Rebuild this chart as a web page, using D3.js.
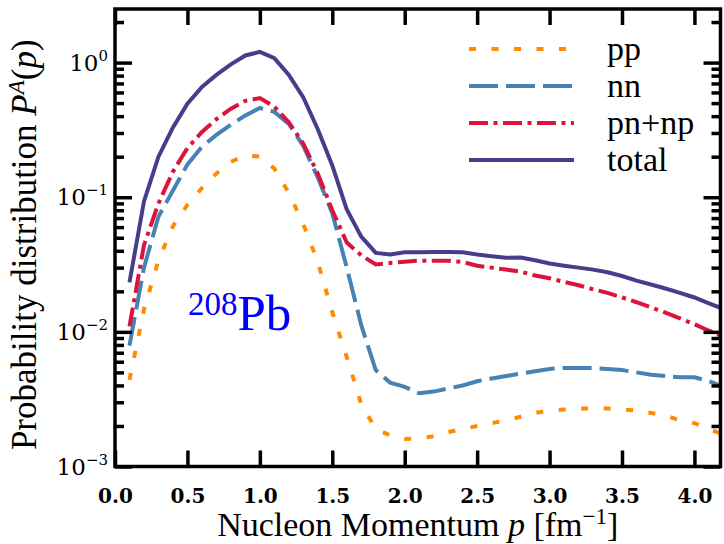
<!DOCTYPE html>
<html lang="en">
  <head>
    <meta charset="UTF-8" />
    <title>208Pb pair momentum distribution</title>
    <style>
      body { margin: 0; background: #fff; }
      svg { display: block; }
    </style>
  </head>
  <body>
    <div id="chart"></div>
    <script src="https://d3js.org/d3.v7.min.js"></script>
    <script>
      // momentum grid in fm^-1
      const momentum = [0.1, 0.2, 0.3, 0.4, 0.5, 0.6, 0.7, 0.8, 0.9, 1.0,
        1.1, 1.2, 1.3, 1.4, 1.5, 1.6, 1.7, 1.8, 1.9, 2.0,
        2.1, 2.2, 2.3, 2.4, 2.5, 2.6, 2.7, 2.8, 2.9, 3.0,
        3.1, 3.2, 3.3, 3.4, 3.5, 3.6, 3.7, 3.8, 3.9, 4.0,
        4.1, 4.2];

      const pp = [0.0044, 0.0147, 0.034, 0.061, 0.088, 0.117, 0.150, 0.183, 0.205, 0.200,
        0.163, 0.108, 0.063, 0.033, 0.014, 0.0065, 0.0029, 0.0019, 0.0017, 0.0016,
        0.00162, 0.00168, 0.0018, 0.0019, 0.0020, 0.0021, 0.0022, 0.00234, 0.0025, 0.0026,
        0.00265, 0.0027, 0.0027, 0.0027, 0.00265, 0.0026, 0.0025, 0.0024, 0.0022, 0.0021,
        0.0019, 0.00172];

      const nn = [0.0079, 0.030, 0.072, 0.112, 0.175, 0.237, 0.290, 0.345, 0.405, 0.460,
        0.430, 0.350, 0.240, 0.140, 0.076, 0.030, 0.0112, 0.0052, 0.0042, 0.0039,
        0.0035, 0.0036, 0.0038, 0.0040, 0.0043, 0.0045, 0.0047, 0.0049, 0.0051, 0.0053,
        0.0054, 0.0054, 0.0054, 0.0053, 0.0052, 0.0050, 0.0048, 0.0047, 0.0046, 0.0046,
        0.0043, 0.0039];

      const pnnp = [0.011, 0.044, 0.090, 0.155, 0.232, 0.305, 0.380, 0.455, 0.520, 0.545,
        0.470, 0.360, 0.250, 0.150, 0.080, 0.046, 0.037, 0.0317, 0.0325, 0.0332,
        0.0338, 0.0338, 0.0338, 0.0330, 0.0310, 0.0300, 0.0290, 0.0280, 0.0262, 0.0250,
        0.0235, 0.0222, 0.0207, 0.0195, 0.0180, 0.0166, 0.0152, 0.0139, 0.0126, 0.0114,
        0.0102, 0.0092];

      const total = [0.0233, 0.093, 0.200, 0.330, 0.495, 0.660, 0.810, 0.970, 1.130, 1.200,
        1.080, 0.810, 0.550, 0.320, 0.172, 0.081, 0.051, 0.0386, 0.0375, 0.0390,
        0.0390, 0.0392, 0.0392, 0.0390, 0.0375, 0.0365, 0.0355, 0.0357, 0.0340, 0.0322,
        0.0310, 0.0300, 0.0290, 0.0277, 0.0260, 0.0240, 0.0225, 0.0210, 0.0195, 0.0180,
        0.0163, 0.0148];

      const xTicks = [0.0, 0.5, 1.0, 1.5, 2.0, 2.5, 3.0, 3.5, 4.0];
      const yMajor = [1e-3, 1e-2, 1e-1, 1e0];
      const yExponents = ["\u22123", "\u22122", "\u22121", "0"];

      const series = [
        { name: "pp", values: pp, color: "#ff8c00", dash: "7,15.5" },
        { name: "nn", values: nn, color: "#4682b4", dash: "29,8" },
        { name: "pn+np", values: pnnp, color: "#dc143c", dash: "19,5.5,4,5.5" },
        { name: "total", values: total, color: "#483d8b", dash: null }
      ];

      const SERIF = "Liberation Serif";
      const TICKFONT = "DejaVu Serif";

      const width = 724, height = 544;
      const margin = { top: 9, right: 3.5, bottom: 77.5, left: 115 };
      const iw = width - margin.left - margin.right;
      const ih = height - margin.top - margin.bottom;

      const x = d3.scaleLinear().domain([0, 4.18]).range([0, iw]);
      const y = d3.scaleLog().domain([1e-3, 2.5]).range([ih, 0]);

      const svg = d3.select("#chart").append("svg")
        .attr("width", width)
        .attr("height", height);

      const g = svg.append("g").attr("transform", `translate(${margin.left},${margin.top})`);

      g.append("clipPath").attr("id", "clip")
        .append("rect").attr("width", iw).attr("height", ih);

      // minor y ticks: 2..9 x each decade
      const yMinor = [];
      yMajor.forEach(m => {
        for (let k = 2; k <= 9; k++) if (m * k <= 2.5) yMinor.push(m * k);
      });

      const line = d3.line()
        .x((d, i) => x(momentum[i]))
        .y(d => y(d));

      const curves = g.append("g").attr("clip-path", "url(#clip)");
      series.forEach(s => {
        curves.append("path")
          .datum(s.values)
          .attr("fill", "none")
          .attr("stroke", s.color)
          .attr("stroke-width", 4)
          .attr("stroke-dasharray", s.dash)
          .attr("d", line);
      });

      // axes with inward ticks on all four sides
      const tickStyle = sel => {
        sel.select(".domain").remove();
        sel.selectAll(".tick line").attr("stroke", "#000").attr("stroke-width", 3.5);
      };

      g.append("g")
        .attr("transform", `translate(0,${ih})`)
        .call(d3.axisBottom(x).tickValues(xTicks).tickSizeInner(-16).tickPadding(22).tickFormat(d3.format(".1f")))
        .call(tickStyle)
        .attr("font-family", TICKFONT)
        .call(a => a.selectAll(".tick text")
          .attr("font-size", 20).attr("font-weight", "bold").attr("fill", "#000"));

      g.append("g")
        .call(d3.axisTop(x).tickValues(xTicks).tickSizeInner(-16).tickFormat(""))
        .call(tickStyle);

      const yLeft = g.append("g")
        .call(d3.axisLeft(y).tickValues(yMajor).tickSizeInner(-17).tickFormat(""))
        .call(tickStyle)
        .attr("font-family", TICKFONT);
      yLeft.selectAll(".tick text")
        .attr("font-size", 23).attr("fill", "#000")
        .attr("x", -7).attr("dy", 7.5).attr("text-anchor", "end")
        .each(function (d, i) {
          const t = d3.select(this);
          t.append("tspan").text("10");
          t.append("tspan").attr("font-size", 15).attr("dy", -10).text(yExponents[i]);
        });

      g.append("g")
        .call(d3.axisLeft(y).tickValues(yMinor).tickSizeInner(-9).tickFormat(""))
        .call(tickStyle);

      g.append("g")
        .attr("transform", `translate(${iw},0)`)
        .call(d3.axisRight(y).tickValues(yMajor).tickSizeInner(-17).tickFormat(""))
        .call(tickStyle);

      g.append("g")
        .attr("transform", `translate(${iw},0)`)
        .call(d3.axisRight(y).tickValues(yMinor).tickSizeInner(-9).tickFormat(""))
        .call(tickStyle);

      g.append("rect")
        .attr("width", iw).attr("height", ih)
        .attr("fill", "none").attr("stroke", "#000").attr("stroke-width", 3.5);

      // legend
      const legend = g.append("g").attr("font-family", SERIF);
      series.forEach((s, i) => {
        const ly = 40 + i * 37;
        legend.append("line")
          .attr("x1", 354).attr("x2", 459)
          .attr("y1", ly).attr("y2", ly)
          .attr("stroke", s.color).attr("stroke-width", 4)
          .attr("stroke-dasharray", s.dash);
        legend.append("text")
          .attr("x", 492).attr("y", ly + 11)
          .attr("font-size", 34)
          .text(s.name);
      });

      // nucleus label
      const nuc = g.append("text").attr("font-family", SERIF)
        .attr("x", 73).attr("y", 321).attr("fill", "#0000ff");
      nuc.append("tspan").attr("font-size", 33).attr("dy", -15).text("208");
      nuc.append("tspan").attr("font-size", 51).attr("dy", 15).text("Pb");

      // axis titles
      const xl = svg.append("text").attr("font-family", SERIF)
        .attr("x", margin.left + iw / 2).attr("y", 536)
        .attr("text-anchor", "middle").attr("font-size", 34);
      xl.append("tspan").text("Nucleon Momentum ");
      xl.append("tspan").attr("font-style", "italic").text("p");
      xl.append("tspan").text(" [fm");
      xl.append("tspan").attr("font-size", 23).attr("dy", -12).text("\u22121");
      xl.append("tspan").attr("dy", 12).text("]");

      const yl = svg.append("text").attr("font-family", SERIF)
        .attr("transform", `translate(36,${margin.top + ih / 2 + 7}) rotate(-90)`)
        .attr("text-anchor", "middle").attr("font-size", 35);
      yl.append("tspan").text("Probability distribution ");
      yl.append("tspan").attr("font-style", "italic").text("P");
      yl.append("tspan").attr("font-style", "italic").attr("font-size", 23).attr("dy", -12).text("A");
      yl.append("tspan").attr("dy", 12).text("(");
      yl.append("tspan").attr("font-style", "italic").text("p");
      yl.append("tspan").text(")");
    </script>
  </body>
</html>
